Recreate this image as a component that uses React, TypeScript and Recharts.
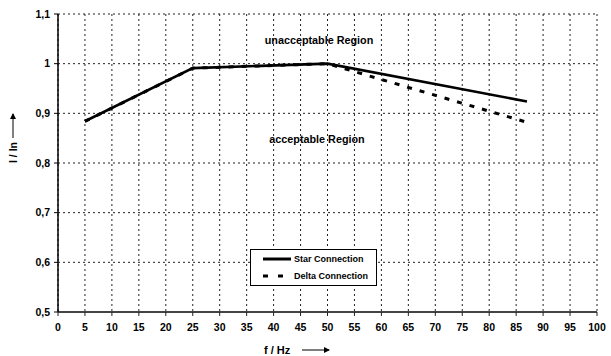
import React from "react";
import {
  LineChart,
  Line,
  XAxis,
  YAxis,
  CartesianGrid,
  Legend,
} from "recharts";

const frequencies = [5, 25, 50, 87];
const starValues = [0.884, 0.991, 1.0, 0.924];
const deltaValues = [0.884, 0.991, 1.0, 0.882];
const xTicks = [0, 5, 10, 15, 20, 25, 30, 35, 40, 45, 50, 55, 60, 65, 70, 75, 80, 85, 90, 95, 100];
const yTicks = [0.5, 0.6, 0.7, 0.8, 0.9, 1.0, 1.1];
const seriesNames = { star: "Star Connection", delta: "Delta Connection" };
const regionLabels = { upper: "unacceptable Region", lower: "acceptable Region" };
const axisTitles = { x: "f / Hz", y: "I / In" };

const data = frequencies.map((f, i) => ({
  f,
  star: starValues[i],
  delta: deltaValues[i],
}));

const FONT = '"Liberation Sans", Arial, sans-serif';

const fmtY = (v: number) => String(Math.round(v * 10) / 10).replace(".", ",");

const LegendBox = (props: any) => {
  const payload = (props.payload || []).slice();
  const order = [seriesNames.star, seriesNames.delta];
  payload.sort((a: any, b: any) => order.indexOf(a.value) - order.indexOf(b.value));
  return (
    <div
      style={{
        width: 125,
        height: 35,
        border: "1px solid #000",
        background: "#fff",
        fontFamily: FONT,
        fontSize: 9,
        fontWeight: "bold",
        color: "#000",
        boxSizing: "content-box",
      }}
    >
      {payload.map((p: any, i: number) => (
        <div key={i} style={{ display: "flex", alignItems: "center", height: 17.5 }}>
          <svg width={42} height={10} style={{ display: "block" }}>
            <line
              x1={12}
              x2={40}
              y1={5}
              y2={5}
              stroke="#000"
              strokeWidth={3}
              strokeDasharray={p.value === seriesNames.delta ? "5 10" : undefined}
            />
          </svg>
          <span style={{ marginLeft: 1 }}>{p.value}</span>
        </div>
      ))}
    </div>
  );
};

export default function App() {
  return (
    <div style={{ position: "absolute", left: 0, top: 0, width: 611, height: 356, background: "#fff" }}>
      <LineChart
        width={611}
        height={356}
        data={data}
        margin={{ top: 14, right: 14, left: 8, bottom: 14 }}
      >
        <CartesianGrid stroke="#222" strokeDasharray="2 3" strokeWidth={1} />
        <XAxis
          dataKey="f"
          type="number"
          domain={[0, 100]}
          ticks={xTicks}
          interval={0}
          height={30}
          tickSize={4}
          tickMargin={8}
          axisLine={{ stroke: "#444", strokeWidth: 2 }}
          tickLine={{ stroke: "#222" }}
          tick={{ fill: "#000", fontSize: 10.5, fontWeight: "bold", fontFamily: FONT }}
        />
        <YAxis
          type="number"
          domain={[0.5, 1.1]}
          ticks={yTicks}
          interval={0}
          width={50}
          tickSize={4}
          tickMargin={4}
          tickFormatter={fmtY}
          axisLine={{ stroke: "#000", strokeWidth: 1.5 }}
          tickLine={{ stroke: "#000" }}
          tick={{ fill: "#000", fontSize: 10.5, fontWeight: "bold", fontFamily: FONT }}
        />
        <Legend
          layout="vertical"
          align="center"
          verticalAlign="middle"
          content={<LegendBox />}
          wrapperStyle={{ left: 250, top: 249, width: 127, height: 37 }}
        />
        <Line
          dataKey="star"
          name={seriesNames.star}
          stroke="#000"
          strokeWidth={2.6}
          dot={false}
          activeDot={false}
          isAnimationActive={false}
        />
        <Line
          dataKey="delta"
          name={seriesNames.delta}
          stroke="#000"
          strokeWidth={3}
          strokeDasharray="5 8"
          dot={false}
          activeDot={false}
          isAnimationActive={false}
        />
      </LineChart>
      <svg
        width={611}
        height={356}
        style={{ position: "absolute", left: 0, top: 0, pointerEvents: "none" }}
        fontFamily={FONT}
        fontWeight="bold"
      >
        <defs>
          <marker id="ah" markerWidth="6" markerHeight="6" refX="5" refY="3" orient="auto">
            <path d="M0,0 L6,3 L0,6 z" fill="#000" />
          </marker>
        </defs>
        <text x={319} y={44} textAnchor="middle" fontSize={10.8} fill="#000">
          {regionLabels.upper}
        </text>
        <text x={317} y={143} textAnchor="middle" fontSize={10.8} fill="#000">
          {regionLabels.lower}
        </text>
        <text x={264} y={354} fontSize={11} fill="#000">
          {axisTitles.x}
        </text>
        <line x1={302} y1={350} x2={329} y2={350} stroke="#000" strokeWidth={1} markerEnd="url(#ah)" />
        <text
          x={0}
          y={0}
          transform="translate(17,163) rotate(-90)"
          fontSize={10.5}
          fill="#000"
        >
          {axisTitles.y}
        </text>
        <line x1={13} y1={138} x2={13} y2={114} stroke="#000" strokeWidth={1} markerEnd="url(#ah)" />
      </svg>
    </div>
  );
}
